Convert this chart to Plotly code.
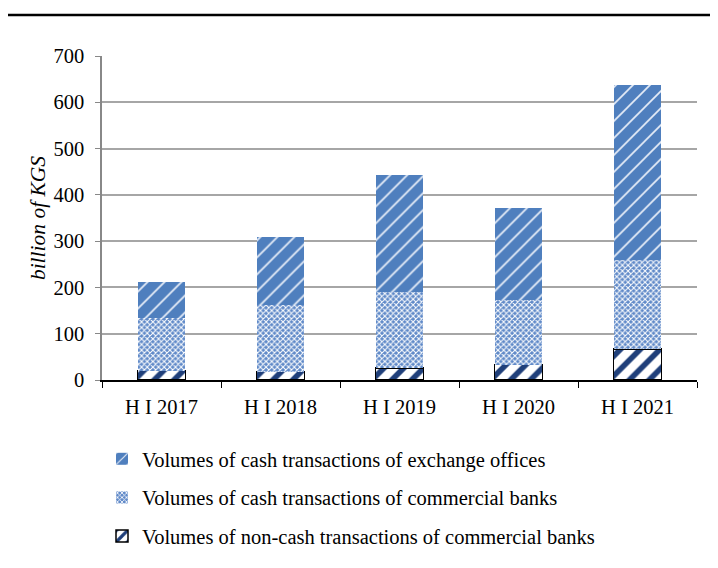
import plotly.graph_objects as go

categories = ["H I 2017", "H I 2018", "H I 2019", "H I 2020", "H I 2021"]
non_cash_banks = [20, 18, 26, 33, 67]
cash_banks = [114, 144, 164, 140, 192]
cash_exchange = [77, 148, 253, 198, 378]

names = [
    "Volumes of non-cash transactions of commercial banks",
    "Volumes of cash transactions of commercial banks",
    "Volumes of cash transactions of exchange offices",
]

FONT = "Liberation Serif, Times New Roman, serif"
FS = 20.5

fig = go.Figure()
fig.add_trace(go.Bar(
    x=categories, y=non_cash_banks, name=names[0], legendgroup="a", legendrank=3,
    marker=dict(color="white", line=dict(color="black", width=1.5),
                pattern=dict(shape="/", fgcolor="#1F3F7A", bgcolor="white", fgopacity=1,
                             size=14, solidity=0.4)),
))
fig.add_trace(go.Bar(
    x=categories, y=cash_banks, name=names[1], legendgroup="b", legendrank=2,
    marker=dict(color="#6C92CB", line=dict(width=0),
                pattern=dict(shape="x", fgcolor="white", bgcolor="#5F89C8", fgopacity=1,
                             size=4, solidity=0.45)),
))
fig.add_trace(go.Bar(
    x=categories, y=cash_exchange, name=names[2], legendgroup="c", legendrank=1,
    marker=dict(color="#4F81BD", line=dict(width=0),
                pattern=dict(shape="/", fgcolor="#E8EEF8", bgcolor="#4F7FBE", fgopacity=1,
                             size=12, solidity=0.14)),
))

fig.update_layout(
    barmode="stack",
    bargap=0.6,
    width=710, height=560,
    margin=dict(l=94, r=21, t=48, b=188),
    paper_bgcolor="white", plot_bgcolor="white",
    font=dict(family=FONT, size=FS, color="black"),
    showlegend=True,
    legend=dict(
        orientation="v", x=0.0, xanchor="left", y=-0.182, yanchor="top",
        traceorder="grouped", tracegroupgap=9,
        font=dict(family=FONT, size=FS, color="black"),
        itemwidth=30,
    ),
    xaxis=dict(
        showline=True, linecolor="black", linewidth=1.5,
        ticks="outside", tickson="boundaries", ticklen=6, tickcolor="black",
        showgrid=False, tickfont=dict(family=FONT, size=FS), ticklabelstandoff=8,
    ),
    yaxis=dict(
        range=[0, 700], dtick=100, showline=True, linecolor="#888888", linewidth=1.5,
        ticks="outside", ticklen=5, tickcolor="#888888",
        gridcolor="#A6A6A6", gridwidth=1.5, zeroline=False,
        tickfont=dict(family=FONT, size=FS), ticklabelstandoff=7,
        title=dict(text="<i>billion of KGS</i>", font=dict(family=FONT, size=FS + 1), standoff=2),
    ),
    shapes=[dict(type="line", xref="paper", yref="paper",
                 x0=-95/595, x1=616/595, y0=(380-15)/324, y1=(380-15)/324,
                 line=dict(color="black", width=2.5))],
)

fig.write_html("out.html")
